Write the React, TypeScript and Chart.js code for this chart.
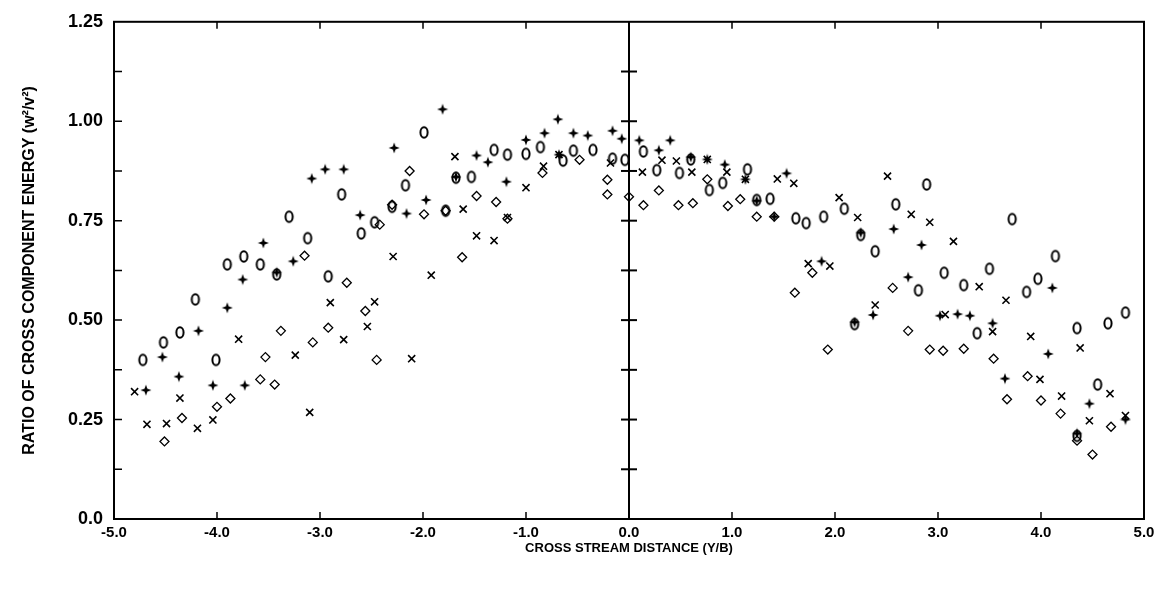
import React, { useEffect, useRef } from "react";
import { Chart, registerables } from "chart.js";

Chart.register(...registerables);

// ---- Data ----
// Circles "o"
const O_X = [-4.72, -4.52, -4.36, -4.21, -4.01, -3.9, -3.74, -3.58, -3.42, -3.3, -3.12, -2.92, -2.79, -2.6, -2.47, -2.3, -2.17, -1.99, -1.78, -1.68, -1.53, -1.31, -1.18, -1.0, -0.86, -0.64, -0.54, -0.35, -0.16, -0.04,
  0.14, 0.27, 0.49, 0.6, 0.78, 0.91, 1.15, 1.24, 1.37, 1.62, 1.72, 1.89, 2.09, 2.25, 2.39, 2.19, 2.59, 2.89, 2.81, 3.06, 3.25, 3.5, 3.72, 3.86, 3.97, 4.14, 3.38, 4.35, 4.65, 4.82, 4.55, 4.35];
const O_Y = [0.4, 0.444, 0.469, 0.552, 0.4, 0.64, 0.66, 0.64, 0.615, 0.76, 0.706, 0.61, 0.816, 0.718, 0.746, 0.785, 0.839, 0.972, 0.775, 0.858, 0.86, 0.928, 0.916, 0.918, 0.935, 0.901, 0.926, 0.928, 0.906, 0.903,
  0.924, 0.877, 0.87, 0.904, 0.827, 0.845, 0.879, 0.802, 0.805, 0.756, 0.744, 0.76, 0.78, 0.714, 0.673, 0.49, 0.791, 0.841, 0.575, 0.619, 0.588, 0.629, 0.754, 0.571, 0.604, 0.661, 0.467, 0.48, 0.492, 0.519, 0.338, 0.209];

// Plus "+"
const P_X = [-4.69, -4.53, -4.37, -4.18, -4.04, -3.9, -3.75, -3.73, -3.55, -3.42, -3.26, -3.08, -2.95, -2.77, -2.61, -2.28, -2.16, -1.97, -1.81, -1.68, -1.48, -1.37, -1.19, -1.0, -0.82, -0.69, -0.68, -0.54, -0.4, -0.16, -0.07,
  0.1, 0.29, 0.4, 0.6, 0.76, 0.93, 1.13, 1.24, 1.41, 1.53, 1.87, 2.25, 2.19, 2.37, 2.57, 2.71, 2.84, 3.02, 3.19, 3.31, 3.53, 3.65, 4.07, 4.11, 4.47, 4.82, 4.35];
const P_Y = [0.324, 0.407, 0.358, 0.473, 0.336, 0.531, 0.602, 0.336, 0.694, 0.62, 0.648, 0.856, 0.879, 0.879, 0.764, 0.933, 0.768, 0.802, 1.03, 0.86, 0.914, 0.897, 0.848, 0.953, 0.97, 1.005, 0.916, 0.97, 0.964, 0.976, 0.956,
  0.952, 0.927, 0.952, 0.91, 0.904, 0.891, 0.854, 0.8, 0.76, 0.869, 0.648, 0.72, 0.495, 0.513, 0.729, 0.608, 0.689, 0.511, 0.515, 0.511, 0.492, 0.353, 0.415, 0.581, 0.29, 0.25, 0.215];

// Cross "x"
const X_X = [-4.8, -4.68, -4.49, -4.36, -4.19, -4.04, -3.79, -3.24, -3.1, -2.9, -2.77, -2.54, -2.47, -2.29, -2.11, -1.92, -1.69, -1.61, -1.48, -1.31, -1.18, -1.0, -0.83, -0.68, -0.18,
  0.13, 0.32, 0.46, 0.61, 0.76, 0.95, 1.13, 1.44, 1.6, 1.74, 1.95, 2.04, 2.22, 2.39, 2.51, 2.74, 2.92, 3.15, 3.07, 3.4, 3.53, 3.66, 3.9, 3.99, 4.2, 4.38, 4.47, 4.67, 4.82];
const X_Y = [0.32, 0.238, 0.24, 0.304, 0.228, 0.249, 0.452, 0.412, 0.268, 0.544, 0.451, 0.484, 0.546, 0.66, 0.403, 0.613, 0.911, 0.779, 0.712, 0.7, 0.758, 0.833, 0.887, 0.916, 0.895,
  0.872, 0.902, 0.9, 0.872, 0.904, 0.872, 0.854, 0.855, 0.844, 0.642, 0.636, 0.808, 0.758, 0.538, 0.862, 0.766, 0.746, 0.698, 0.514, 0.584, 0.471, 0.55, 0.459, 0.351, 0.309, 0.43, 0.247, 0.315, 0.26];

// Diamond "◇"
const D_X = [-4.51, -4.34, -4.0, -3.87, -3.58, -3.44, -3.53, -3.38, -3.15, -3.07, -2.92, -2.74, -2.56, -2.45, -2.42, -2.3, -2.13, -1.99, -1.78, -1.62, -1.48, -1.29, -1.18, -0.84, -0.48, -0.21, -0.21, 0.0,
  0.14, 0.29, 0.48, 0.62, 0.76, 0.96, 1.08, 1.24, 1.41, 1.61, 1.78, 1.93, 2.56, 2.71, 2.92, 3.05, 3.25, 3.54, 3.67, 3.87, 4.0, 4.19, 4.35, 4.5, 4.68];
const D_Y = [0.195, 0.254, 0.282, 0.303, 0.351, 0.338, 0.407, 0.473, 0.662, 0.444, 0.481, 0.594, 0.523, 0.4, 0.74, 0.79, 0.875, 0.766, 0.775, 0.658, 0.812, 0.797, 0.755, 0.87, 0.903, 0.853, 0.816, 0.81,
  0.789, 0.826, 0.789, 0.794, 0.854, 0.787, 0.804, 0.76, 0.76, 0.569, 0.619, 0.426, 0.581, 0.473, 0.426, 0.423, 0.428, 0.403, 0.301, 0.359, 0.298, 0.265, 0.197, 0.162, 0.232];

// Cross-ticks along the centre line x = 0
const ZERO_LINE_Y = [0, 0.125, 0.25, 0.375, 0.5, 0.625, 0.75, 0.875, 1.0, 1.125, 1.25];

const X_MIN = -5, X_MAX = 5, Y_MIN = 0, Y_MAX = 1.25;

const zip = (xs: number[], ys: number[]) => xs.map((x, i) => ({ x, y: ys[i] }));

const FONT = "'Liberation Sans', Arial, sans-serif";

function makeO(): HTMLCanvasElement {
  const c = document.createElement("canvas");
  c.width = 12; c.height = 15;
  const g = c.getContext("2d")!;
  g.strokeStyle = "#000"; g.lineWidth = 2;
  g.beginPath(); g.ellipse(6, 7.5, 3.6, 5.2, 0, 0, Math.PI * 2); g.stroke();
  return c;
}
function makePlus(): HTMLCanvasElement {
  const c = document.createElement("canvas");
  c.width = 12; c.height = 12;
  const g = c.getContext("2d")!;
  g.fillStyle = "#000";
  g.beginPath();
  g.moveTo(6, 0.5); g.lineTo(7.4, 4.6); g.lineTo(11.5, 6); g.lineTo(7.4, 7.4);
  g.lineTo(6, 11.5); g.lineTo(4.6, 7.4); g.lineTo(0.5, 6); g.lineTo(4.6, 4.6);
  g.closePath(); g.fill();
  return c;
}

const frameTicks = {
  id: "frameTicks",
  afterDraw(chart: any) {
    const { ctx, chartArea: a, scales } = chart;
    const xs = scales.x, ys = scales.y;
    ctx.save();
    ctx.strokeStyle = "#000";
    ctx.lineWidth = 2;
    ctx.strokeRect(a.left, a.top, a.right - a.left, a.bottom - a.top);
    ctx.lineWidth = 1.5;
    ctx.beginPath();
    xs.ticks.forEach((t: any) => {
      if (t.value <= X_MIN || t.value >= X_MAX || t.value === 0) return;
      const px = xs.getPixelForValue(t.value);
      ctx.moveTo(px, a.bottom); ctx.lineTo(px, a.bottom - 7);
      ctx.moveTo(px, a.top); ctx.lineTo(px, a.top + 7);
    });
    ys.ticks.forEach((t: any) => {
      if (t.value <= Y_MIN || t.value >= Y_MAX) return;
      const py = ys.getPixelForValue(t.value);
      ctx.moveTo(a.left, py); ctx.lineTo(a.left + 8, py);
    });
    ctx.stroke();
    ctx.restore();
  },
};

export default function App() {
  const ref = useRef<HTMLCanvasElement>(null);
  useEffect(() => {
    const oImg = makeO();
    const pImg = makePlus();
    const chart = new Chart(ref.current!, {
      type: "scatter",
      data: {
        datasets: [
          {
            type: "line",
            data: ZERO_LINE_Y.map((y) => ({ x: 0, y })),
            borderColor: "#000",
            borderWidth: 2,
            pointStyle: "line",
            pointRadius: (c: any) => (c.dataIndex === 0 || c.dataIndex === ZERO_LINE_Y.length - 1 ? 0 : 8),
            pointBorderColor: "#000",
            pointBorderWidth: 2,
            clip: false,
          } as any,
          { data: zip(O_X, O_Y), pointStyle: oImg as any, clip: false },
          { data: zip(P_X, P_Y), pointStyle: pImg as any, clip: false },
          {
            data: zip(X_X, X_Y),
            pointStyle: "crossRot",
            pointRadius: 5,
            pointBorderWidth: 1.6,
            pointBorderColor: "#000",
            pointBackgroundColor: "transparent",
            clip: false,
          },
          {
            data: zip(D_X, D_Y),
            pointStyle: "rectRot",
            pointRadius: 4.5,
            pointBorderWidth: 1.3,
            pointBorderColor: "#000",
            pointBackgroundColor: "transparent",
            clip: false,
          },
        ],
      },
      options: {
        animation: false,
        responsive: false,
        events: [],
        layout: { padding: { top: 17, right: 23, left: 0, bottom: 0 } },
        plugins: { legend: { display: false }, tooltip: { enabled: false } },
        scales: {
          x: {
            type: "linear",
            min: X_MIN,
            max: X_MAX,
            afterFit: (s: any) => { s.height = 71; },
            border: { display: false },
            grid: { display: false, drawTicks: false },
            ticks: {
              stepSize: 1,
              padding: 5,
              color: "#000",
              font: { family: FONT, size: 15, weight: "bold" },
              callback: (v: any) => Number(v).toFixed(1),
            },
            title: {
              display: true,
              text: "CROSS STREAM DISTANCE (Y/B)",
              color: "#000",
              font: { family: FONT, size: 13, weight: "bold" },
              padding: { top: 0, bottom: 34 },
            },
          },
          y: {
            type: "linear",
            min: Y_MIN,
            max: Y_MAX,
            afterFit: (s: any) => { s.width = 114; },
            border: { display: false },
            grid: { display: false, drawTicks: false },
            ticks: {
              stepSize: 0.125,
              padding: 11,
              autoSkip: false,
              color: "#000",
              font: { family: FONT, size: 18, weight: "bold" },
              callback: (v: any) => {
                const n = Number(v);
                if (Math.abs(n * 4 - Math.round(n * 4)) > 1e-6) return "";
                return n === 0 ? "0.0" : n.toFixed(2);
              },
            },
            title: {
              display: true,
              text: "RATIO OF CROSS COMPONENT ENERGY (w²/v²)",
              color: "#000",
              font: { family: FONT, size: 16, weight: "bold" },
              padding: { top: 20, bottom: 0 },
            },
          },
        },
      },
      plugins: [frameTicks],
    });
    return () => chart.destroy();
  }, []);
  return (
    <div style={{ position: "fixed", left: 0, top: 0, width: 1167, height: 590, background: "#fff" }}>
      <canvas ref={ref} width={1167} height={590} style={{ display: "block" }} />
    </div>
  );
}
